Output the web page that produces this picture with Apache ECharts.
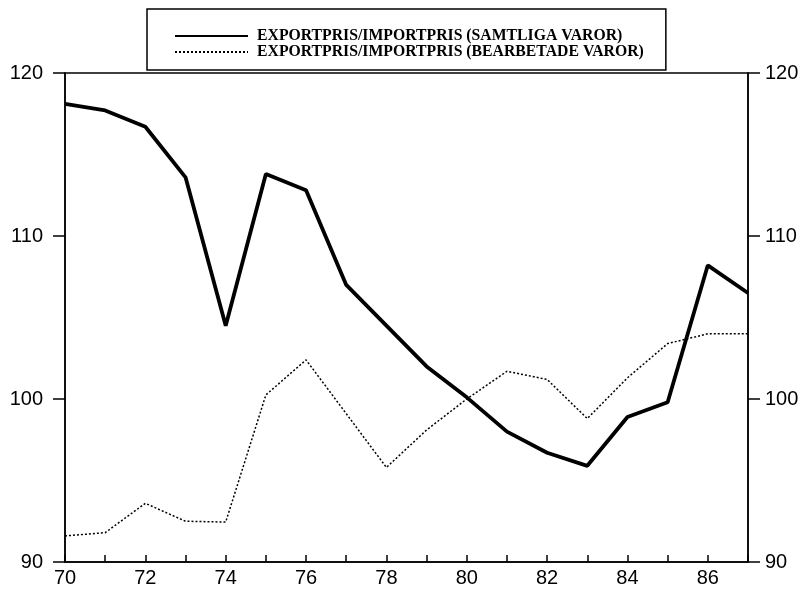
<!DOCTYPE html>
<html style="height: 100%">

<head>
	<meta charset="utf-8">
</head>

<body style="height: 100%; margin: 0; background: #fff">
	<div id="container" style="width: 805px; height: 594px"></div>
	<script type="text/javascript" src="https://cdn.jsdelivr.net/npm/echarts@6/dist/echarts.min.js"></script>
	<script type="text/javascript">
		let years = [70, 71, 72, 73, 74, 75, 76, 77, 78, 79, 80, 81, 82, 83, 84, 85, 86, 87];
		// exportpris/importpris, samtliga varor
		let samtliga = [118.1, 117.7, 116.7, 113.6, 104.5, 113.8, 112.8, 107.0, 104.5, 102.0, 100.1, 98.0, 96.7, 95.9, 98.9, 99.8, 108.2, 106.5];
		// exportpris/importpris, bearbetade varor
		let bearbetade = [91.6, 91.8, 93.6, 92.5, 92.45, 100.25, 102.4, 99.1, 95.8, 98.1, 100.0, 101.7, 101.2, 98.8, 101.3, 103.4, 104.0, 104.0];
		let seriesNames = ['EXPORTPRIS/IMPORTPRIS (SAMTLIGA VAROR)', 'EXPORTPRIS/IMPORTPRIS (BEARBETADE VAROR)'];

		let dom = document.getElementById("container");
		let myChart = echarts.init(dom);

		function pairs(values) {
			return years.map(function (y, i) { return [y, values[i]]; });
		}

		let labelFont = {
			color: '#000',
			fontFamily: 'Liberation Sans',
			fontSize: 20
		};

		function yAxis(pos) {
			return {
				type: 'value',
				position: pos,
				min: 90,
				max: 120,
				interval: 10,
				splitLine: { show: false },
				axisLine: { show: true, lineStyle: { color: '#000', width: 1.5 } },
				axisTick: { show: true, length: 12, lineStyle: { color: '#000', width: 1.5 } },
				axisLabel: Object.assign({ margin: pos === 'left' ? 22 : 17 }, labelFont)
			};
		}

		let option = {
			animation: false,
			grid: {
				left: 65,
				right: 57,
				top: 73,
				bottom: 32,
				show: true,
				borderColor: '#000',
				borderWidth: 1.5
			},
			legend: {
				orient: 'vertical',
				left: 147,
				top: 9,
				padding: [19, 22, 10, 27],
				borderColor: '#000',
				borderWidth: 1.5,
				itemGap: 0,
				itemWidth: 73,
				itemHeight: 13,
				itemStyle: { opacity: 0 },
				textStyle: {
					color: '#000',
					fontFamily: 'Liberation Serif',
					fontWeight: 'bold',
					fontSize: 15.75,
					lineHeight: 13,
					padding: [0, 0, 0, 4]
				},
				data: seriesNames
			},
			xAxis: {
				type: 'value',
				min: 70,
				max: 87,
				interval: 1,
				splitLine: { show: false },
				axisLine: { lineStyle: { color: '#000', width: 1.5 } },
				axisTick: { inside: true, length: 7, lineStyle: { color: '#000', width: 1.5 } },
				axisLabel: Object.assign({
					margin: 6,
					formatter: function (v) { return v % 2 === 0 ? String(v) : ''; }
				}, labelFont)
			},
			yAxis: [yAxis('left'), yAxis('right')],
			series: [
				{
					name: seriesNames[0],
					type: 'line',
					symbol: 'none',
					lineStyle: { color: '#000', width: 3.8 },
					itemStyle: { color: '#000' },
					data: pairs(samtliga)
				},
				{
					name: seriesNames[1],
					type: 'line',
					symbol: 'none',
					lineStyle: { color: '#000', width: 1.5, type: [2, 2] },
					itemStyle: { color: '#000' },
					data: pairs(bearbetade)
				}
			]
		};

		myChart.setOption(option);
	</script>
</body>

</html>
